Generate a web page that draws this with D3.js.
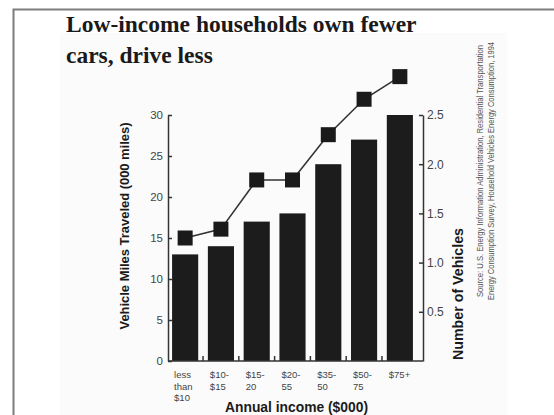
<!DOCTYPE html>
<html>
<head>
<meta charset="utf-8">
<script src="https://cdn.jsdelivr.net/npm/d3@7"></script>
<style>
  html, body { margin: 0; padding: 0; background: #fff; }
  svg { display: block; }
</style>
</head>
<body>
<svg id="chart" width="554" height="415"></svg>
<script>
// ---- data ----
const categories = ["less|than|$10", "$10-|$15", "$15-|20", "$20-|55", "$35-|50", "$50-|75", "$75+"];
const milesTraveled = [13, 14, 17, 18, 24, 27, 30];          // 000 miles (left axis)
const vehiclesPerHousehold = [1.25, 1.34, 1.84, 1.84, 2.3, 2.66, 2.89]; // right axis
const leftTicks = [0, 5, 10, 15, 20, 25, 30];
const rightTicks = [0.5, 1.0, 1.5, 2.0, 2.5];
const titleLines = ["Low-income households own fewer", "cars, drive less"];
const sourceLines = [
  "Source: U.S. Energy Information Administration, Residential Transportation",
  "Energy Consumption Survey, Household Vehicles Energy Consumption, 1994"
];

const svg = d3.select("#chart");
const W = 554, H = 415;

svg.append("rect").attr("width", W).attr("height", H).attr("fill", "#fff");
// faint panel
svg.append("rect").attr("x", 60).attr("y", 33).attr("width", 447).attr("height", H - 33).attr("fill", "#fbfbfb");
// frame
svg.append("path").attr("d", `M13.5,${H} V9.5 H${W}`).attr("fill", "none")
  .attr("stroke", "#7d7d7d").attr("stroke-width", 2);

// title
svg.selectAll("text.title").data(titleLines).join("text")
  .attr("class", "title")
  .attr("x", 66).attr("y", (d, i) => 32 + i * 31)
  .attr("font-family", "'Liberation Serif', 'Times New Roman', serif")
  .attr("font-weight", "bold").attr("font-size", 23.5).attr("fill", "#1a1a1a")
  .text(d => d);

// scales
const y0 = 361, yTop = 115, xLeft = 168, xRight = 423;
const x = d3.scaleBand().domain(categories).range([168.5, 416.5]).paddingInner(0.27).paddingOuter(0.1);
const yL = d3.scaleLinear().domain([0, 30]).range([y0, yTop]);
const yR = d3.scaleLinear().domain([0, 2.5]).range([y0, yTop]);

const axisColor = "#333";

// bars
svg.selectAll("rect.bar").data(milesTraveled).join("rect")
  .attr("class", "bar")
  .attr("x", (d, i) => x(categories[i]))
  .attr("width", x.bandwidth())
  .attr("y", d => yL(d))
  .attr("height", d => y0 - yL(d))
  .attr("fill", "#1c1c1c");

// left axis
const gL = svg.append("g").attr("transform", `translate(${xLeft},0)`)
  .call(d3.axisLeft(yL).tickValues(leftTicks).tickFormat(d3.format("d"))
    .tickSizeInner(-4).tickSizeOuter(0).tickPadding(5));
gL.select(".domain").attr("stroke", axisColor).attr("stroke-width", 1.5);
gL.selectAll(".tick line").attr("stroke", axisColor).attr("stroke-width", 1.5);
gL.selectAll(".tick text").attr("font-family", "'Liberation Sans', Arial, sans-serif")
  .attr("font-size", 11.5).attr("fill", "#444");

// right axis
const gR = svg.append("g").attr("transform", `translate(${xRight},0)`)
  .call(d3.axisRight(yR).tickValues(rightTicks).tickFormat(d3.format(".1f"))
    .tickSizeInner(-4).tickSizeOuter(0).tickPadding(4));
gR.select(".domain").attr("stroke", axisColor).attr("stroke-width", 1.5);
gR.selectAll(".tick line").attr("stroke", axisColor).attr("stroke-width", 1.5);
gR.selectAll(".tick text").attr("font-family", "'Liberation Sans', Arial, sans-serif")
  .attr("font-size", 12).attr("fill", "#444");
// zero line for right axis bottom
svg.append("line").attr("x1", xRight).attr("x2", xRight).attr("y1", y0).attr("y2", yR(0))
  .attr("stroke", axisColor).attr("stroke-width", 1.5);

// bottom baseline
svg.append("line").attr("x1", xLeft).attr("x2", xRight).attr("y1", y0).attr("y2", y0)
  .attr("stroke", axisColor).attr("stroke-width", 1.5);
// small ticks between bars
const gapCenters = categories.slice(1).map(c => x(c) - (x.step() - x.bandwidth()) / 2);
svg.selectAll("line.gap").data(gapCenters).join("line")
  .attr("class", "gap")
  .attr("x1", d => d).attr("x2", d => d).attr("y1", y0).attr("y2", y0 - 5)
  .attr("stroke", axisColor).attr("stroke-width", 1.5);

// zero label
// (left axis already includes 0)

// x labels
const xl = svg.selectAll("text.xlab").data(categories).join("text")
  .attr("class", "xlab")
  .attr("x", d => x(d) + 2)
  .attr("y", 378)
  .attr("font-family", "'Liberation Sans', Arial, sans-serif")
  .attr("font-size", 9.5).attr("fill", "#444");
xl.each(function(d) {
  const t = d3.select(this);
  d.split("|").forEach((line, i) => {
    t.append("tspan").attr("x", x(d) + 2).attr("y", 378 + i * 11.5).text(line);
  });
});

// line series
const line = d3.line()
  .x((d, i) => x(categories[i]) + x.bandwidth() / 2)
  .y(d => yR(d));
svg.append("path").datum(vehiclesPerHousehold)
  .attr("d", line).attr("fill", "none").attr("stroke", "#333").attr("stroke-width", 1.6);
const sq = 15;
svg.selectAll("rect.pt").data(vehiclesPerHousehold).join("rect")
  .attr("class", "pt")
  .attr("x", (d, i) => x(categories[i]) + x.bandwidth() / 2 - sq / 2)
  .attr("y", d => yR(d) - sq / 2)
  .attr("width", sq).attr("height", sq)
  .attr("fill", "#1a1a1a");

// axis titles
svg.append("text")
  .attr("transform", "translate(129,226) rotate(-90)")
  .attr("text-anchor", "middle")
  .attr("font-family", "'Liberation Sans', Arial, sans-serif")
  .attr("font-weight", "bold").attr("font-size", 13).attr("fill", "#1a1a1a")
  .attr("textLength", 207).attr("lengthAdjust", "spacingAndGlyphs")
  .text("Vehicle Miles Traveled (000 miles)");

svg.append("text")
  .attr("transform", "translate(463,294) rotate(-90)")
  .attr("text-anchor", "middle")
  .attr("font-family", "'Liberation Sans', Arial, sans-serif")
  .attr("font-weight", "bold").attr("font-size", 14).attr("fill", "#1a1a1a")
  .attr("textLength", 132).attr("lengthAdjust", "spacingAndGlyphs")
  .text("Number of Vehicles");

svg.append("text")
  .attr("x", 296.5).attr("y", 412)
  .attr("text-anchor", "middle")
  .attr("font-family", "'Liberation Sans', Arial, sans-serif")
  .attr("font-weight", "bold").attr("font-size", 13.8).attr("fill", "#1a1a1a")
  .attr("textLength", 143).attr("lengthAdjust", "spacingAndGlyphs")
  .text("Annual income ($000)");

// source
const srcPos = [{bx: 482.5, start: 297, len: 252}, {bx: 494, start: 300, len: 258}];
svg.selectAll("text.src").data(sourceLines).join("text")
  .attr("class", "src")
  .attr("transform", (d, i) => `translate(${srcPos[i].bx},${srcPos[i].start}) rotate(-90)`)
  .attr("font-family", "'Liberation Sans', Arial, sans-serif")
  .attr("font-size", 8.5).attr("fill", "#555")
  .attr("textLength", (d, i) => srcPos[i].len).attr("lengthAdjust", "spacingAndGlyphs")
  .text(d => d);
</script>
</body>
</html>
